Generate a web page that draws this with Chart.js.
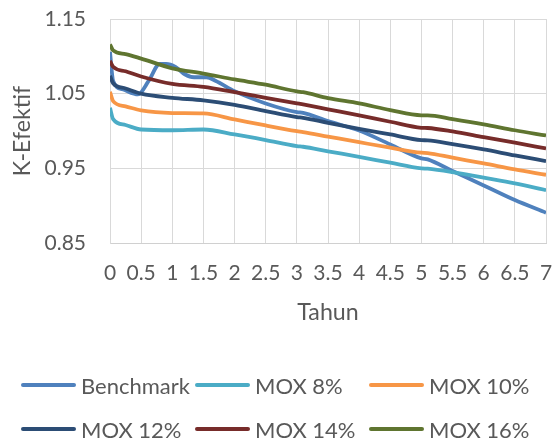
<!DOCTYPE html>
<html>
<head>
<meta charset="utf-8">
<script src="https://cdn.jsdelivr.net/npm/chart.js@4"></script>
<style>
  html, body { margin: 0; padding: 0; background: #ffffff; }
  #wrap { position: relative; width: 554px; height: 442px; }
  #chart { position: absolute; left: 0; top: 0; }
  #legend {
    position: absolute; left: 21px; top: 363px;
    display: grid; grid-template-columns: 174px 174px 174px; grid-auto-rows: 44px;
    font-family: Lato, sans-serif; font-size: 22px; color: #595959;
  }
  #legend .item { display: flex; align-items: center; white-space: nowrap; }
  #legend .swatch { width: 55px; height: 4px; border-radius: 2px; margin-right: 5px; flex: none; }
</style>
</head>
<body>
<div id="wrap">
  <canvas id="chart" width="554" height="442"></canvas>
  <div id="legend"></div>
</div>
<script>
// Time axis (years) shared by the MOX fuel cases
const years = [0, 0.05, 0.25, 0.5, 1, 1.5, 2, 2.5, 3, 3.1, 3.5, 4, 4.5, 5, 5.1, 5.5, 6, 6.5, 7];

// k-effective for each MOX loading
const mox8  = [1.031, 1.016, 1.008, 1.002, 1.001, 1.002, 0.9954, 0.9878, 0.9797, 0.9789, 0.9728, 0.9655, 0.9575, 0.9499, 0.9495, 0.9449, 0.9374, 0.9298, 0.9208];
const mox10 = [1.0525, 1.040, 1.033, 1.0275, 1.024, 1.0235, 1.0155, 1.0074, 0.9998, 0.9985, 0.9925, 0.985, 0.9776, 0.9709, 0.9705, 0.9642, 0.9566, 0.9485, 0.9414];
const mox12 = [1.074, 1.064, 1.057, 1.050, 1.0445, 1.041, 1.035, 1.0266, 1.0186, 1.0177, 1.011, 1.003, 0.9954, 0.9878, 0.9875, 0.9824, 0.9753, 0.9673, 0.9597];
const mox14 = [1.094, 1.086, 1.080, 1.073, 1.063, 1.059, 1.052, 1.0445, 1.037, 1.0355, 1.029, 1.021, 1.0124, 1.0043, 1.004, 0.9994, 0.9918, 0.9843, 0.9767];
const mox16 = [1.116, 1.108, 1.103, 1.097, 1.084, 1.077, 1.069, 1.062, 1.053, 1.052, 1.044, 1.037, 1.028, 1.021, 1.021, 1.016, 1.009, 1.001, 0.994];

// Benchmark case, sampled on its own time grid
const benchmarkYears = [0, 0.05, 0.2, 0.45, 0.62, 0.8, 0.9, 1.05, 1.2, 1.35, 1.55, 1.7, 2, 2.5, 3, 3.1, 3.5, 4, 4.5, 5, 5.1, 5.5, 6, 6.5, 7];
const benchmark = [1.106, 1.067, 1.056, 1.049, 1.067, 1.090, 1.090, 1.086, 1.076, 1.072, 1.072, 1.067, 1.0534, 1.0369, 1.0253, 1.0244, 1.0132, 1.0007, 0.982, 0.9633, 0.962, 0.9463, 0.9271, 0.9075, 0.8906];

const seriesLabels = ['Benchmark', 'MOX 8%', 'MOX 10%', 'MOX 12%', 'MOX 14%', 'MOX 16%'];
const yTicks = [0.85, 0.95, 1.05, 1.15];
const xRange = [0, 7];

const colors = ['#4F81BD', '#4BACC6', '#F79646', '#2C4D75', '#772C2A', '#5F7530'];

function points(xs, ys) {
  return xs.map((x, i) => ({ x: x, y: ys[i] }));
}

const seriesData = [
  points(benchmarkYears, benchmark),
  points(years, mox8),
  points(years, mox10),
  points(years, mox12),
  points(years, mox14),
  points(years, mox16)
];

const TICK_FONT = { family: 'Lato', size: 21 };
const TITLE_FONT = { family: 'Lato', size: 23.2 };
const TEXT = '#595959';

// Legend laid out as a three-column grid below the plot
const htmlLegend = {
  id: 'htmlLegend',
  afterUpdate(chart) {
    const box = document.getElementById('legend');
    box.innerHTML = '';
    chart.data.datasets.forEach(ds => {
      const item = document.createElement('div');
      item.className = 'item';
      const sw = document.createElement('span');
      sw.className = 'swatch';
      sw.style.background = ds.borderColor;
      const label = document.createElement('span');
      label.textContent = ds.label;
      item.appendChild(sw);
      item.appendChild(label);
      box.appendChild(item);
    });
  }
};

function draw() {
  new Chart(document.getElementById('chart'), {
    type: 'line',
    data: {
      datasets: seriesLabels.map((label, i) => ({
        label: label,
        data: seriesData[i],
        borderColor: colors[i],
        backgroundColor: colors[i],
        borderWidth: 3.8,
        pointRadius: 0,
        fill: false,
        cubicInterpolationMode: 'monotone',
        order: seriesLabels.length - i
      }))
    },
    options: {
      responsive: false,
      animation: false,
      layout: { padding: { top: 19, right: 8, bottom: 116, left: 0 } },
      plugins: {
        legend: { display: false },
        tooltip: { enabled: false }
      },
      scales: {
        x: {
          type: 'linear',
          min: xRange[0],
          max: xRange[1],
          grid: { color: '#d9d9d9', lineWidth: 1, drawTicks: false },
          border: { color: '#d0d0d0', width: 1 },
          ticks: {
            stepSize: 0.5,
            autoSkip: false,
            maxRotation: 0,
            padding: 18,
            color: TEXT,
            font: TICK_FONT,
            callback: v => String(+v.toFixed(1))
          },
          title: { display: true, text: 'Tahun', color: TEXT, font: TITLE_FONT, padding: { top: 0, bottom: 0 } },
          afterFit(scale) {
            scale.height = 83;
            scale.paddingLeft = 0;
            scale.paddingRight = 0;
          }
        },
        y: {
          type: 'linear',
          min: yTicks[0],
          max: yTicks[yTicks.length - 1],
          grid: { color: '#d9d9d9', lineWidth: 1, drawTicks: false },
          border: { color: '#d9d9d9', width: 1 },
          ticks: {
            stepSize: 0.1,
            padding: 24,
            color: TEXT,
            font: TICK_FONT,
            callback: v => v.toFixed(2)
          },
          title: { display: true, text: 'K-Efektif', color: TEXT, font: TITLE_FONT, padding: { top: 8.5, bottom: 0 } },
          afterFit(scale) {
            scale.width = 110;
            scale.paddingTop = 0;
            scale.paddingBottom = 0;
          }
        }
      }
    },
    plugins: [htmlLegend]
  });
}

if (document.fonts && document.fonts.load) {
  document.fonts.load('20px Lato').then(draw, draw);
} else {
  draw();
}
</script>
</body>
</html>
